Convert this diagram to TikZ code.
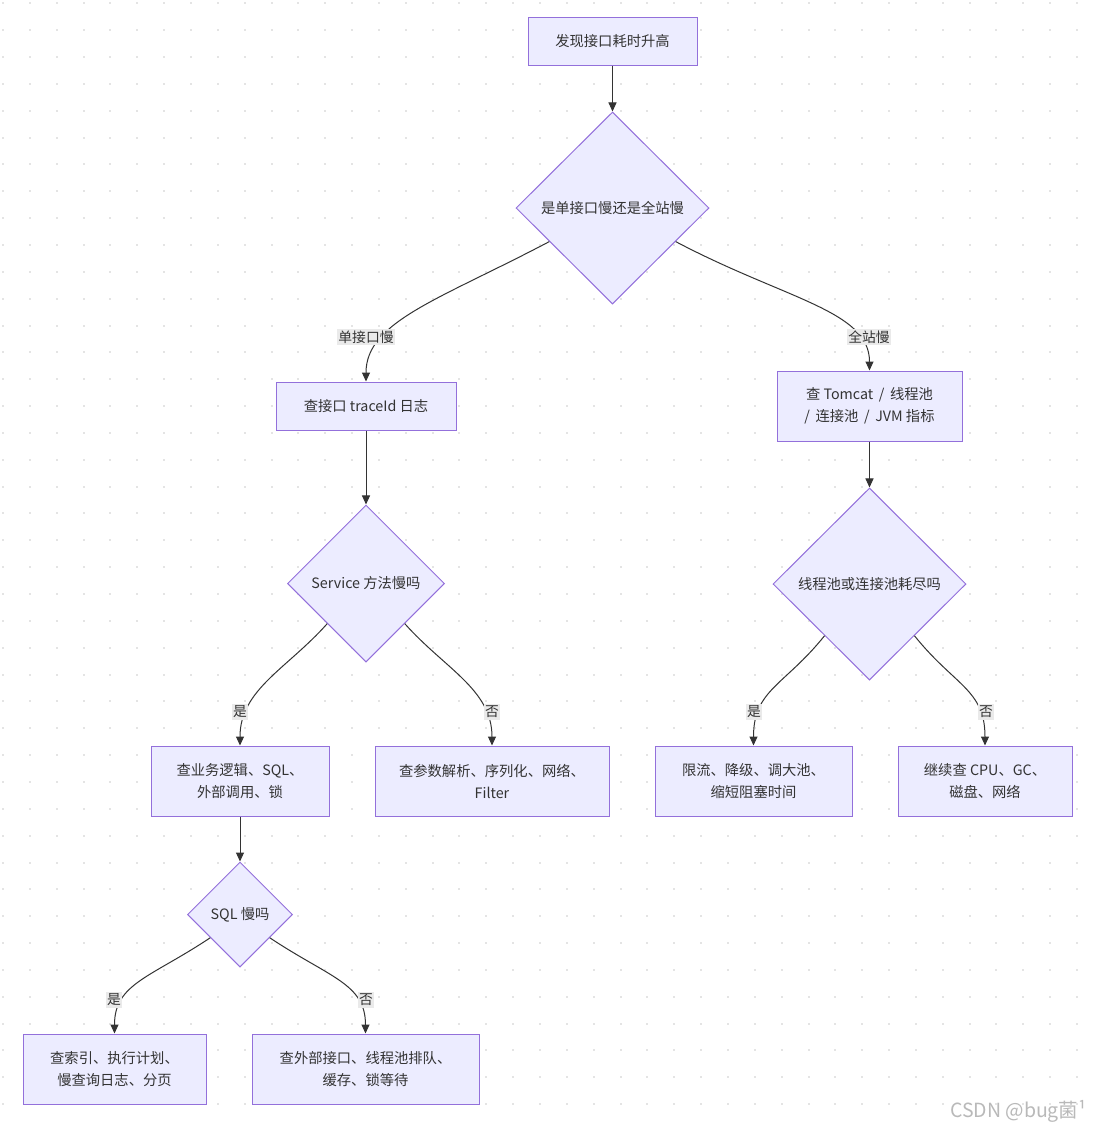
\documentclass[tikz,border=0pt]{standalone}
\usepackage{fontspec}
\setmainfont{Noto Sans CJK SC}
\usepackage{tikz}
\usetikzlibrary{positioning,shapes.geometric,arrows.meta}
\definecolor{boxclr}{RGB}{236,236,255}
\definecolor{lineclr}{RGB}{147,112,219}
\definecolor{txtclr}{RGB}{51,51,51}
\definecolor{edgeclr}{RGB}{51,51,51}
\definecolor{lblclr}{RGB}{234,234,234}
\definecolor{dotclr}{RGB}{228,228,228}
\definecolor{markclr}{RGB}{185,185,185}
\tikzset{ %
  ,>={Triangle[length=9pt,width=8pt]}
  ,every node/.style={font=\fontsize{14.3}{22}\selectfont, text=txtclr}
  ,proc/.style={draw=lineclr, fill=boxclr, line width=1pt, inner sep=0, align=center, minimum height=70pt}
  ,ask/.style={draw=lineclr, fill=boxclr, line width=1pt, diamond, aspect=1, inner sep=0}
  ,lbl/.style={fill=lblclr, inner xsep=1pt, inner ysep=2pt, font=\fontsize{13.8}{16}\selectfont}
  ,flow/.style={draw=edgeclr, line width=1pt, ->}
}

\begin{document}
\begin{tikzpicture}[x=1pt, y=-1pt]
      \useasboundingbox[fill=white] (0,0) rectangle (1093,1128);
      % background dots
      \foreach \i in {0,...,40} \foreach \j in {0,...,41}
        \fill[dotclr] ({2+26.85*\i},{2.3+26.85*\j}) rectangle +(2,2);
      \draw
      node[proc, minimum width=169pt, minimum height=48pt] (n1) at (612.5,41) {发现接口耗时升高}
      node[ask, minimum width=193pt, minimum height=192pt, below=46pt of n1] (d1) {是单接口慢还是全站慢}
      node[proc, minimum width=180pt, minimum height=48pt] (n2) at (366,406) {查接口 traceId 日志}
      node[ask, minimum width=157pt, minimum height=157pt, below=74pt of n2] (d2) {Service 方法慢吗}
      node[proc, minimum width=185pt] (n3) at (869.5,406) {查 Tomcat \,/\, 线程池\\/\, 连接池 \,/\, JVM 指标}
      node[ask, minimum width=193pt, minimum height=192pt, below=46pt of n3] (d3) {线程池或连接池耗尽吗}
      node[proc, minimum width=178pt] (n4) at (240,781) {查业务逻辑、SQL、\\外部调用、锁}
      node[proc, minimum width=234pt, right=45pt of n4] (n5) {查参数解析、序列化、网络、\\Filter}
      node[proc, minimum width=197pt, right=45pt of n5] (n6) {限流、降级、调大池、\\缩短阻塞时间}
      node[proc, minimum width=174pt, right=45pt of n6] (n7) {继续查 CPU、GC、\\磁盘、网络}
      node[ask, minimum width=105pt, minimum height=105pt, below=45pt of n4] (d4) {SQL 慢吗}
      node[proc, minimum width=183pt] (n8) at (114.5,1069) {查索引、执行计划、\\慢查询日志、分页}
      node[proc, minimum width=227pt, right=45pt of n8] (n9) {查外部接口、线程池排队、\\缓存、锁等待};
      \draw [flow] (n1) -- (d1);
      \draw [flow] (d1.208) .. controls +(-110,58) and +(0,-60) .. (n2.north);
      \draw [flow] (d1.332) .. controls +(110,58) and +(0,-60) .. (n3.north);
      \draw [flow] (n2) -- (d2);
      \draw [flow] (n3) -- (d3);
      \draw [flow] (d2.226) .. controls +(-40,45) and +(0,-56) .. (n4.north);
      \draw [flow] (d2.314) .. controls +(40,45) and +(0,-56) .. (n5.north);
      \draw [flow] (d3.229) .. controls +(-40,50) and +(0,-56) .. (n6.north);
      \draw [flow] (d3.311) .. controls +(40,50) and +(0,-56) .. (n7.north);
      \draw [flow] (n4) -- (d4);
      \draw [flow] (d4.218) .. controls +(-60,40) and +(0,-50) .. (n8.north);
      \draw [flow] (d4.322) .. controls +(60,40) and +(0,-50) .. (n9.north);
      \node[lbl] (l1) at (366,337) {单接口慢};
      \node[lbl] (l2) at (869,337) {全站慢};
      \node[lbl] (l3) at (240,712) {是};
      \node[lbl] (l4) at (492,712) {否};
      \node[lbl] (l5) at (754,712) {是};
      \node[lbl] (l6) at (986,712) {否};
      \node[lbl] (l7) at (114,1000) {是};
      \node[lbl] (l8) at (366,1000) {否};
      \node[text=markclr, font=\fontsize{19.5}{22}\selectfont, anchor=east] (mark) at (1090,1111) {CSDN @bug菌¹};
    \end{tikzpicture}
\end{document}
